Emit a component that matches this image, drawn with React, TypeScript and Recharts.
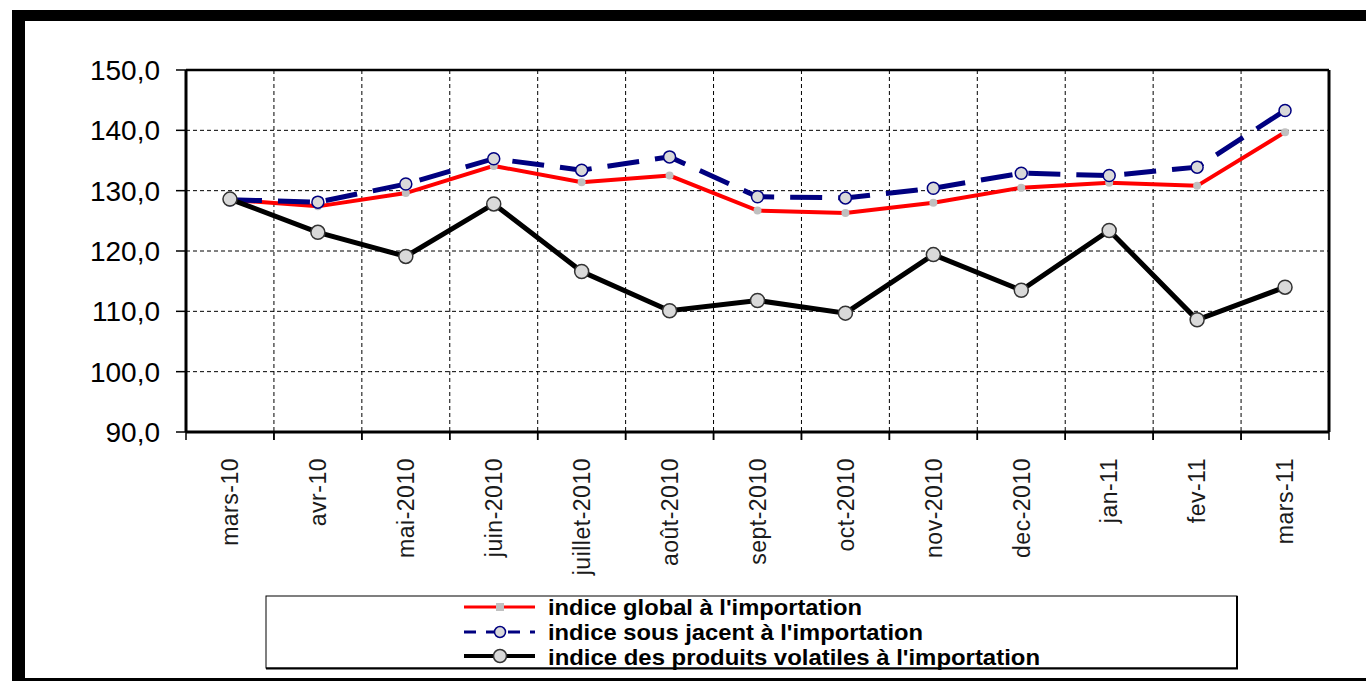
import { LineChart, Line, XAxis, YAxis, CartesianGrid } from 'recharts';

const months = [
  'mars-10', 'avr-10', 'mai-2010', 'juin-2010', 'juillet-2010', 'août-2010', 'sept-2010',
  'oct-2010', 'nov-2010', 'dec-2010', 'jan-11', 'fev-11', 'mars-11',
];
const indiceGlobal = [128.5, 127.4, 129.6, 134.1, 131.4, 132.5, 126.7, 126.3, 128.0, 130.5, 131.3, 130.8, 139.7];
const indiceSousJacent = [128.5, 128.1, 131.1, 135.3, 133.4, 135.6, 129.0, 128.8, 130.4, 132.9, 132.5, 133.9, 143.3];
const indiceVolatiles = [128.6, 123.1, 119.1, 127.8, 116.6, 110.1, 111.8, 109.7, 119.4, 113.5, 123.4, 108.6, 114.0];
const yTicks = [90, 100, 110, 120, 130, 140, 150];

const legendLabels = [
  "indice global à l'importation",
  "indice sous jacent à l'importation",
  "indice des produits volatiles à l'importation",
];

const data = months.map((m, i) => ({
  month: m,
  global: indiceGlobal[i],
  sousJacent: indiceSousJacent[i],
  volatiles: indiceVolatiles[i],
}));

const W = 1366;
const H = 681;
const PLOT_LEFT = 186;
const PLOT_RIGHT = 37;
const PLOT_TOP = 70;
const X_AXIS_H = 249;
const PLOT_BOTTOM = H - X_AXIS_H;
const BAND = (W - PLOT_LEFT - PLOT_RIGHT) / months.length;
const FONT = '"Liberation Sans", Arial, sans-serif';

const fmt = (v: number) => v.toFixed(1).replace('.', ',');

function MonthTick(props: any) {
  const { x, payload } = props;
  return (
    <g>
      <line x1={x - BAND / 2} x2={x - BAND / 2} y1={PLOT_BOTTOM} y2={PLOT_BOTTOM + 8} stroke="#000" strokeWidth={1.5} />
      <line x1={x + BAND / 2} x2={x + BAND / 2} y1={PLOT_BOTTOM} y2={PLOT_BOTTOM + 8} stroke="#000" strokeWidth={1.5} />
      <text
        transform={`translate(${x},${PLOT_BOTTOM + 26}) rotate(-90)`}
        textAnchor="end"
        dy="0.36em"
        fontSize={23}
        fontFamily={FONT}
        fill="#1a1a1a"
        letterSpacing={0.5}
      >
        {payload.value}
      </text>
    </g>
  );
}

const makeDot = (r: number, fill: string, stroke: string, sw: number) => (p: any) => (
  <circle key={`d-${p.dataKey}-${p.index}`} cx={p.cx} cy={p.cy} r={r} fill={fill} stroke={stroke} strokeWidth={sw} />
);

function LegendBox() {
  const rows = [
    { y: 20, label: legendLabels[0], len: 314 },
    { y: 45, label: legendLabels[1], len: 375 },
    { y: 70, label: legendLabels[2], len: 492 },
  ];
  return (
    <svg width={974} height={76} style={{ position: 'absolute', left: 265, top: 595, overflow: 'visible' }}>
      <rect x={1} y={1} width={971} height={72} fill="#fff" stroke="#000" strokeWidth={1} />
      <line x1={972} x2={972} y1={1} y2={74} stroke="#000" strokeWidth={2} />
      <line x1={1} x2={973} y1={73.5} y2={73.5} stroke="#000" strokeWidth={2} />
      {/* global */}
      <line x1={199} x2={270} y1={12} y2={12} stroke="#ff0000" strokeWidth={3} />
      <rect x={231} y={8} width={8} height={8} fill="#c0c0c0" />
      {/* sous jacent */}
      <line x1={199} x2={270} y1={37} y2={37} stroke="#000080" strokeWidth={3} strokeDasharray="12 10" />
      <circle cx={235} cy={37} r={5.5} fill="#d9d9d9" stroke="#000080" strokeWidth={1.5} />
      {/* volatiles */}
      <line x1={199} x2={270} y1={61} y2={61} stroke="#000" strokeWidth={4} />
      <circle cx={235} cy={61} r={6.5} fill="#d9d9d9" stroke="#333" strokeWidth={1.5} />
      {rows.map((r) => (
        <text
          key={r.label}
          x={283}
          y={r.y}
          fontSize={22}
          fontWeight="bold"
          fontFamily={FONT}
          fill="#000"
          textLength={r.len}
          lengthAdjust="spacingAndGlyphs"
        >
          {r.label}
        </text>
      ))}
    </svg>
  );
}

export default function App() {
  return (
    <div style={{ position: 'absolute', left: 0, top: 0, width: W, height: H, background: '#fff', overflow: 'hidden' }}>
      {/* outer frame */}
      <div style={{ position: 'absolute', left: 12, top: 10, width: W - 12, height: 11, background: '#000' }} />
      <div style={{ position: 'absolute', left: 12, top: 10, width: 13, height: H - 10, background: '#000' }} />
      <div style={{ position: 'absolute', left: 25, top: 678, width: W - 25, height: 3, background: '#000' }} />

      <div style={{ position: 'absolute', left: 0, top: 0 }}>
        <LineChart width={W} height={H} data={data} margin={{ top: 0, right: 0, left: 0, bottom: 0 }}>
          <CartesianGrid
            stroke="#000"
            strokeWidth={1}
            strokeDasharray="4 3"
            verticalCoordinatesGenerator={({ offset }: any) =>
              months.slice(1).map((_, i) => offset.left + ((i + 1) * offset.width) / months.length)
            }
          />
          <XAxis
            xAxisId="top"
            orientation="top"
            dataKey="month"
            scale="band"
            height={PLOT_TOP}
            tick={false}
            tickLine={false}
            axisLine={{ stroke: '#000', strokeWidth: 2.5 }}
          />
          <XAxis
            dataKey="month"
            scale="band"
            height={X_AXIS_H}
            interval={0}
            tickLine={false}
            tick={<MonthTick />}
            axisLine={{ stroke: '#000', strokeWidth: 3 }}
          />
          <YAxis
            width={PLOT_LEFT}
            domain={[90, 150]}
            ticks={yTicks}
            tickFormatter={fmt}
            tickSize={10}
            tickMargin={16}
            tickLine={{ stroke: '#000', strokeWidth: 1.5 }}
            axisLine={{ stroke: '#000', strokeWidth: 3 }}
            tick={{ fontSize: 28, fontFamily: FONT, fill: '#000' }}
          />
          <YAxis
            yAxisId="right"
            orientation="right"
            width={PLOT_RIGHT}
            domain={[90, 150]}
            ticks={yTicks}
            tick={false}
            tickLine={false}
            axisLine={{ stroke: '#000', strokeWidth: 3 }}
          />
          <Line
            dataKey="global"
            type="linear"
            stroke="#ff0000"
            strokeWidth={4}
            dot={makeDot(4, '#c0c0c0', 'none', 0)}
            isAnimationActive={false}
          />
          <Line
            dataKey="sousJacent"
            type="linear"
            stroke="#000080"
            strokeWidth={5}
            strokeDasharray="32 16"
            dot={makeDot(6, '#d9d9d9', '#000080', 1.5)}
            isAnimationActive={false}
          />
          <Line
            dataKey="volatiles"
            type="linear"
            stroke="#000"
            strokeWidth={5}
            dot={makeDot(7, '#d9d9d9', '#333', 1.5)}
            isAnimationActive={false}
          />
        </LineChart>
      </div>

      <LegendBox />
    </div>
  );
}
